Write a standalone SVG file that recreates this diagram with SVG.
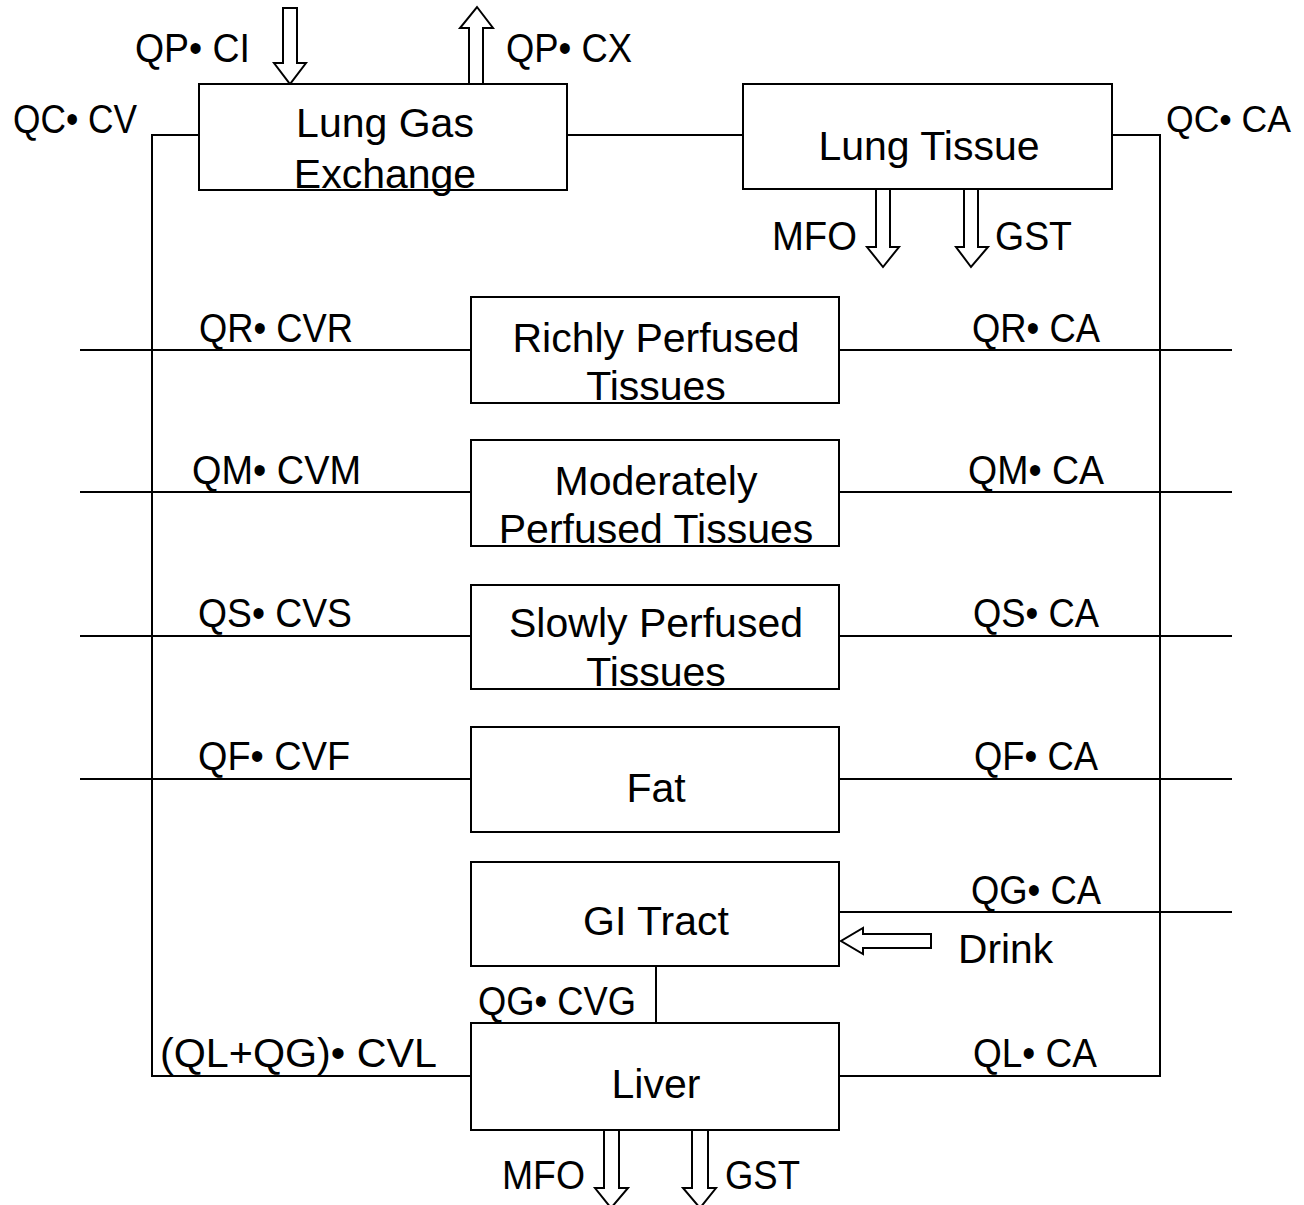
<svg xmlns="http://www.w3.org/2000/svg" width="1304" height="1205" viewBox="0 0 1304 1205">
<style>
.box{fill:#fff;stroke:#000;stroke-width:2}
.ln{fill:none;stroke:#000;stroke-width:2}
.ar{fill:#fff;stroke:#000;stroke-width:2;stroke-linejoin:miter}
.t{font-family:"Liberation Sans",Arial,sans-serif;font-size:41px;fill:#000}
.c{text-anchor:middle}
</style>
<rect width="1304" height="1205" fill="#fff"/>
<g id="connectors">
<path class="ln" d="M199,135 H152 V1076 H471"/>
<path class="ln" d="M1112,135 H1160 V1076 H839"/>
<path class="ln" d="M567,135 H743"/>
<path class="ln" d="M80,350 H471 M839,350 H1232"/>
<path class="ln" d="M80,492 H471 M839,492 H1232"/>
<path class="ln" d="M80,636 H471 M839,636 H1232"/>
<path class="ln" d="M80,779 H471 M839,779 H1232"/>
<path class="ln" d="M839,912 H1232"/>
<path class="ln" d="M656,966 V1023"/>
<path class="ar" d="M283,8 H297 V63 H306 L290,84 L274,63 H283 Z"/>
<path class="ar" d="M469,84 V28 H460 L477,7 L493,28 H483 V84 Z"/>
<path class="ar" d="M876,189 H890 V247 H899 L883,267 L867,247 H876 Z"/>
<path class="ar" d="M964,189 H978 V247 H988 L971,267 L956,247 H964 Z"/>
<path class="ar" d="M604,1130 H619 V1188 H628 L611,1208 L595,1188 H604 Z"/>
<path class="ar" d="M692,1130 H708 V1188 H716 L700,1208 L683,1188 H692 Z"/>
<path class="ar" d="M931,934 V948 H863 V954 L841,941 L863,928 V934 Z"/>
<text class="t" x="135" y="62" textLength="115" lengthAdjust="spacingAndGlyphs">QP• CI</text>
<text class="t" x="506" y="62" textLength="126" lengthAdjust="spacingAndGlyphs">QP• CX</text>
<text class="t" x="13" y="133" textLength="124" lengthAdjust="spacingAndGlyphs">QC• CV</text>
<text class="t" x="1166" y="132" style="font-size:37px" textLength="125" lengthAdjust="spacingAndGlyphs">QC• CA</text>
<text class="t" x="772" y="250" textLength="85" lengthAdjust="spacingAndGlyphs">MFO</text>
<text class="t" x="995" y="250" textLength="77" lengthAdjust="spacingAndGlyphs">GST</text>
<text class="t" x="199" y="342" textLength="154" lengthAdjust="spacingAndGlyphs">QR• CVR</text>
<text class="t" x="972" y="342" textLength="128" lengthAdjust="spacingAndGlyphs">QR• CA</text>
<text class="t" x="192" y="484" textLength="169" lengthAdjust="spacingAndGlyphs">QM• CVM</text>
<text class="t" x="968" y="484" textLength="136" lengthAdjust="spacingAndGlyphs">QM• CA</text>
<text class="t" x="198" y="627" textLength="154" lengthAdjust="spacingAndGlyphs">QS• CVS</text>
<text class="t" x="973" y="627" textLength="126" lengthAdjust="spacingAndGlyphs">QS• CA</text>
<text class="t" x="198" y="770" textLength="152" lengthAdjust="spacingAndGlyphs">QF• CVF</text>
<text class="t" x="974" y="770" textLength="124" lengthAdjust="spacingAndGlyphs">QF• CA</text>
<text class="t" x="971" y="904" textLength="130" lengthAdjust="spacingAndGlyphs">QG• CA</text>
<text class="t" x="958" y="963" textLength="95" lengthAdjust="spacingAndGlyphs">Drink</text>
<text class="t" x="478" y="1015" textLength="158" lengthAdjust="spacingAndGlyphs">QG• CVG</text>
<text class="t" x="160" y="1067" textLength="277" lengthAdjust="spacingAndGlyphs">(QL+QG)• CVL</text>
<text class="t" x="973" y="1067" textLength="124" lengthAdjust="spacingAndGlyphs">QL• CA</text>
<text class="t" x="502" y="1189" textLength="83" lengthAdjust="spacingAndGlyphs">MFO</text>
<text class="t" x="725" y="1189" textLength="75" lengthAdjust="spacingAndGlyphs">GST</text>
</g>
<g id="lung-gas-exchange">
<rect class="box" x="199" y="84" width="368" height="106"/>
<text class="t c" x="385" y="137">Lung Gas</text>
<text class="t c" x="385" y="188">Exchange</text>
</g>
<g id="lung-tissue">
<rect class="box" x="743" y="84" width="369" height="105"/>
<text class="t c" x="929" y="160">Lung Tissue</text>
</g>
<g id="richly-perfused">
<rect class="box" x="471" y="297" width="368" height="106"/>
<text class="t c" x="656" y="352">Richly Perfused</text>
<text class="t c" x="656" y="400">Tissues</text>
</g>
<g id="moderately-perfused">
<rect class="box" x="471" y="440" width="368" height="106"/>
<text class="t c" x="656" y="495">Moderately</text>
<text class="t c" x="656" y="543">Perfused Tissues</text>
</g>
<g id="slowly-perfused">
<rect class="box" x="471" y="585" width="368" height="104"/>
<text class="t c" x="656" y="637">Slowly Perfused</text>
<text class="t c" x="656" y="686">Tissues</text>
</g>
<g id="fat">
<rect class="box" x="471" y="727" width="368" height="105"/>
<text class="t c" x="656" y="802">Fat</text>
</g>
<g id="gi-tract">
<rect class="box" x="471" y="862" width="368" height="104"/>
<text class="t c" x="656" y="935">GI Tract</text>
</g>
<g id="liver">
<rect class="box" x="471" y="1023" width="368" height="107"/>
<text class="t c" x="656" y="1098">Liver</text>
</g>
</svg>
